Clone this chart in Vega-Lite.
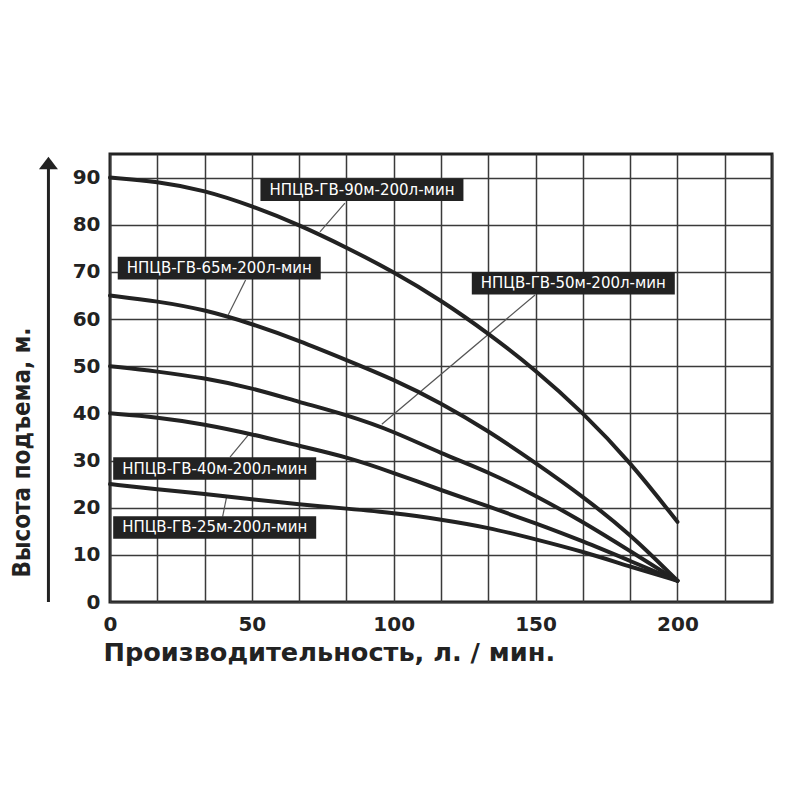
{
  "$schema": "https://vega.github.io/schema/vega-lite/v6.json",
  "width": 662,
  "height": 448,
  "autosize": {"type": "none"},
  "padding": {"left": 110, "top": 154, "right": 28, "bottom": 198},
  "background": "white",
  "config": {
    "view": {"stroke": "#222222", "strokeWidth": 3}
  },
  "datasets": {
    "curves": [
      {"model": "90", "q": 0, "h": 90}, {"model": "90", "q": 16.6667, "h": 89.2}, {"model": "90", "q": 33.3333, "h": 87.3},
      {"model": "90", "q": 50, "h": 84}, {"model": "90", "q": 66.6667, "h": 80}, {"model": "90", "q": 83.3333, "h": 75.2},
      {"model": "90", "q": 100, "h": 70}, {"model": "90", "q": 116.6667, "h": 64}, {"model": "90", "q": 133.3333, "h": 57},
      {"model": "90", "q": 150, "h": 49.2}, {"model": "90", "q": 166.6667, "h": 40.2}, {"model": "90", "q": 183.3333, "h": 29.7},
      {"model": "90", "q": 200, "h": 17},
      {"model": "65", "q": 0, "h": 65}, {"model": "65", "q": 16.6667, "h": 63.8}, {"model": "65", "q": 33.3333, "h": 62},
      {"model": "65", "q": 50, "h": 59}, {"model": "65", "q": 66.6667, "h": 55.4}, {"model": "65", "q": 83.3333, "h": 51.3},
      {"model": "65", "q": 100, "h": 47.2}, {"model": "65", "q": 116.6667, "h": 42.2}, {"model": "65", "q": 133.3333, "h": 36.3},
      {"model": "65", "q": 150, "h": 29.5}, {"model": "65", "q": 166.6667, "h": 22.4}, {"model": "65", "q": 183.3333, "h": 14.4},
      {"model": "65", "q": 200, "h": 4.5},
      {"model": "50", "q": 0, "h": 50}, {"model": "50", "q": 16.6667, "h": 48.9}, {"model": "50", "q": 33.3333, "h": 47.5},
      {"model": "50", "q": 50, "h": 45.4}, {"model": "50", "q": 66.6667, "h": 42.4}, {"model": "50", "q": 83.3333, "h": 39.7},
      {"model": "50", "q": 100, "h": 36.2}, {"model": "50", "q": 116.6667, "h": 31.5}, {"model": "50", "q": 133.3333, "h": 27.6},
      {"model": "50", "q": 150, "h": 22.6}, {"model": "50", "q": 166.6667, "h": 17}, {"model": "50", "q": 183.3333, "h": 10.8},
      {"model": "50", "q": 200, "h": 4.5},
      {"model": "40", "q": 0, "h": 40}, {"model": "40", "q": 16.6667, "h": 39.2}, {"model": "40", "q": 33.3333, "h": 37.7},
      {"model": "40", "q": 50, "h": 35.6}, {"model": "40", "q": 66.6667, "h": 33.1}, {"model": "40", "q": 83.3333, "h": 30.8},
      {"model": "40", "q": 100, "h": 27.4}, {"model": "40", "q": 116.6667, "h": 23.7}, {"model": "40", "q": 133.3333, "h": 20.3},
      {"model": "40", "q": 150, "h": 16.7}, {"model": "40", "q": 166.6667, "h": 12.9}, {"model": "40", "q": 183.3333, "h": 8.7},
      {"model": "40", "q": 200, "h": 4.5},
      {"model": "25", "q": 0, "h": 25}, {"model": "25", "q": 16.6667, "h": 23.9}, {"model": "25", "q": 33.3333, "h": 22.9},
      {"model": "25", "q": 50, "h": 21.8}, {"model": "25", "q": 66.6667, "h": 20.7}, {"model": "25", "q": 83.3333, "h": 19.8},
      {"model": "25", "q": 100, "h": 18.9}, {"model": "25", "q": 116.6667, "h": 17.5}, {"model": "25", "q": 133.3333, "h": 15.8},
      {"model": "25", "q": 150, "h": 13.3}, {"model": "25", "q": 166.6667, "h": 10.7}, {"model": "25", "q": 183.3333, "h": 7.5},
      {"model": "25", "q": 200, "h": 4.5}
    ],
    "labels": [
      {"label": "НПЦВ-ГВ-90м-200л-мин", "q": 88.8, "h": 87.4},
      {"label": "НПЦВ-ГВ-65м-200л-мин", "q": 38.5, "h": 70.8},
      {"label": "НПЦВ-ГВ-50м-200л-мин", "q": 163.3, "h": 67.6},
      {"label": "НПЦВ-ГВ-40м-200л-мин", "q": 36.9, "h": 28.3},
      {"label": "НПЦВ-ГВ-25м-200л-мин", "q": 36.9, "h": 15.8}
    ],
    "leaders": [
      {"model": "90", "q": 82.8, "h": 84.6, "q2": 74.0, "h2": 78.5},
      {"model": "65", "q": 47.8, "h": 68.3, "q2": 41.7, "h2": 60.9},
      {"model": "50", "q": 149.8, "h": 65.1, "q2": 95.8, "h2": 37.7},
      {"model": "40", "q": 42.3, "h": 30.7, "q2": 49.3, "h2": 35.8},
      {"model": "25", "q": 39.7, "h": 18.1, "q2": 41.1, "h2": 22.3}
    ],
    "arrow": [
      {"q": -21.7, "h": 0, "h2": 92.7}
    ],
    "arrowhead": [
      {"q": -21.7, "h": 93.1}
    ]
  },
  "layer": [
    {
      "data": {"name": "leaders"},
      "mark": {"type": "rule", "color": "#555555", "strokeWidth": 1.2},
      "encoding": {
        "x": {
          "field": "q",
          "type": "quantitative",
          "scale": {"domain": [0, 233.3333], "nice": false, "zero": false},
          "axis": {
            "values": [0, 16.6667, 33.3333, 50, 66.6667, 83.3333, 100, 116.6667, 133.3333, 150, 166.6667, 183.3333, 200, 216.6667, 233.3333],
            "labelExpr": "abs(datum.value / 50 - round(datum.value / 50)) < 0.001 && datum.value < 201 ? format(datum.value, 'd') : ''",
            "grid": true,
            "gridColor": "#3a3a3a",
            "gridWidth": 1.5,
            "ticks": false,
            "domain": false,
            "labelFont": "DejaVu Sans",
            "labelFontWeight": "bold",
            "labelFontSize": 20,
            "labelColor": "#222222",
            "labelPadding": 12,
            "labelOverlap": false,
            "labelFlush": false,
            "title": "Производительность, л. / мин.",
            "titleFont": "DejaVu Sans",
            "titleFontWeight": "bold",
            "titleFontSize": 25.6,
            "titleColor": "#222222",
            "titleX": -7,
            "titleY": 50,
            "titleAlign": "left",
            "titleBaseline": "middle"
          }
        },
        "y": {
          "field": "h",
          "type": "quantitative",
          "scale": {"domain": [0, 95], "nice": false, "zero": false},
          "axis": {
            "values": [0, 5, 10, 15, 20, 25, 30, 35, 40, 45, 50, 55, 60, 65, 70, 75, 80, 85, 90, 95],
            "labelExpr": "datum.value % 10 == 0 && datum.value <= 90 ? datum.label : ''",
            "grid": true,
            "gridColor": "#3a3a3a",
            "gridWidth": 1.5,
            "ticks": false,
            "domain": false,
            "labelFont": "DejaVu Sans",
            "labelFontWeight": "bold",
            "labelFontSize": 20,
            "labelColor": "#222222",
            "labelPadding": 10,
            "labelOverlap": false,
            "labelFlush": false,
            "title": "Высота подъема, м.",
            "titleFont": "Liberation Sans Narrow, DejaVu Sans Condensed, sans-serif",
            "titleFontWeight": "bold",
            "titleFontSize": 24,
            "titleColor": "#222222",
            "titleAngle": 270,
            "titleX": -88,
            "titleY": 423,
            "titleAlign": "left",
            "titleBaseline": "middle"
          }
        },
        "x2": {"field": "q2"},
        "y2": {"field": "h2"}
      }
    },
    {
      "data": {"name": "curves"},
      "mark": {"type": "line", "color": "#222222", "strokeWidth": 4, "interpolate": "basis", "strokeCap": "round"},
      "encoding": {
        "x": {"field": "q", "type": "quantitative"},
        "y": {"field": "h", "type": "quantitative"},
        "detail": {"field": "model", "type": "nominal"}
      }
    },
    {
      "data": {"name": "labels"},
      "mark": {"type": "point", "shape": "M-1,-0.111H1V0.111H-1Z", "size": 41209, "filled": true, "color": "#222222", "opacity": 1, "strokeWidth": 0},
      "encoding": {
        "x": {"field": "q", "type": "quantitative"},
        "y": {"field": "h", "type": "quantitative"}
      }
    },
    {
      "data": {"name": "labels"},
      "mark": {"type": "text", "color": "white", "font": "DejaVu Sans", "fontSize": 15, "align": "center", "baseline": "middle"},
      "encoding": {
        "x": {"field": "q", "type": "quantitative"},
        "y": {"field": "h", "type": "quantitative"},
        "text": {"field": "label", "type": "nominal"}
      }
    },
    {
      "data": {"name": "arrow"},
      "mark": {"type": "rule", "color": "#222222", "strokeWidth": 3},
      "encoding": {
        "x": {"field": "q", "type": "quantitative"},
        "y": {"field": "h", "type": "quantitative"},
        "y2": {"field": "h2"}
      }
    },
    {
      "data": {"name": "arrowhead"},
      "mark": {"type": "point", "shape": "M0,-0.66L1,0.66L-1,0.66Z", "size": 361, "filled": true, "color": "#222222", "opacity": 1, "strokeWidth": 0},
      "encoding": {
        "x": {"field": "q", "type": "quantitative"},
        "y": {"field": "h", "type": "quantitative"}
      }
    }
  ]
}
